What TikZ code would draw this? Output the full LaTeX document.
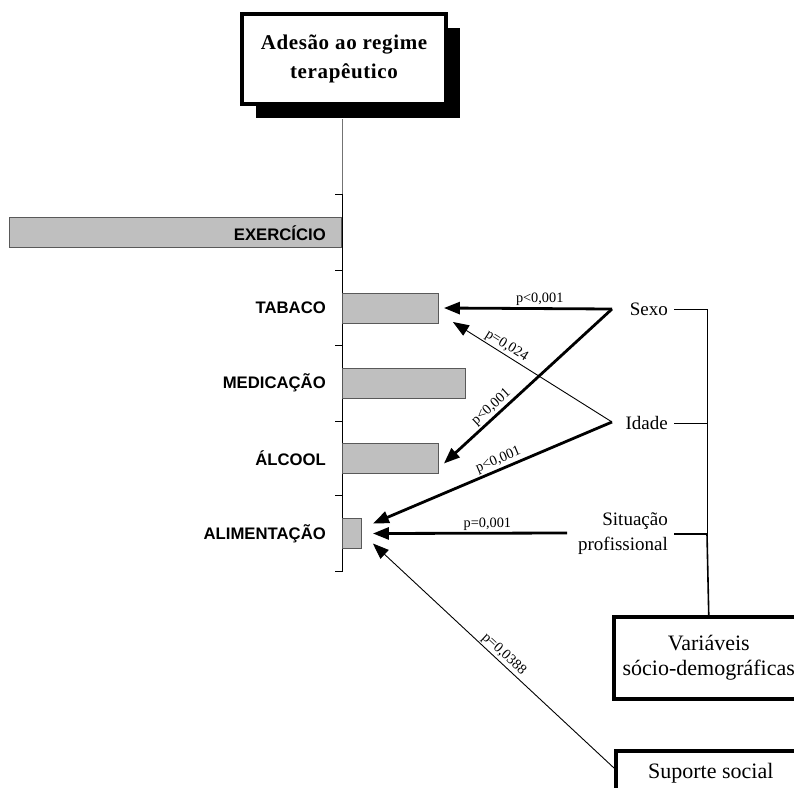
\documentclass[tikz,border=0pt]{standalone}
\usepackage{fontspec}
\setmainfont{Liberation Serif}
\setsansfont{Liberation Sans}
\usetikzlibrary{arrows.meta,shadows}
\begin{document}
\begin{tikzpicture}[x=1pt,y=-1pt,
  bar/.style={draw=black!65, fill=black!25, line width=0.9pt, inner sep=0pt, minimum height=30pt},
  barlabel/.style={font=\sffamily\bfseries\fontsize{16.7}{18}\selectfont, anchor=east, inner sep=0pt},
  var/.style={font=\fontsize{19}{25}\selectfont, inner sep=0pt},
  plabel/.style={font=\fontsize{14.3}{15}\selectfont, inner sep=1.5pt},
  tipstyle/.style={-{Triangle[length=16pt,width=12pt]}},
  strong/.style={tipstyle, line width=2.8pt},
  weak/.style={tipstyle, line width=0.9pt},
  framebox/.style={draw, line width=3.5pt, fill=white, inner sep=0pt},
]
\useasboundingbox (0,0) rectangle (794,787);
\clip (0,0) rectangle (794,787);

% title with solid drop shadow
\node[framebox, minimum width=204pt, minimum height=90pt, align=center,
      font=\bfseries\fontsize{21}{29}\selectfont\addfontfeature{LetterSpace=3},
      drop shadow={shadow xshift=14pt, shadow yshift=-14pt, opacity=1, fill=black}]
  (title) at (344,59) {Adesão ao regime\\terapêutico};

% axis with ticks
\coordinate (axtop) at (342,119);
\coordinate (axmid) at (342,194);
\coordinate (axbot) at (342,572);
\draw[line width=0.9pt, black!55] (axtop) -- (axmid);
\draw[line width=0.9pt] (axmid) -- (axbot);
\foreach \y in {194,270,345,421,495,571}
  \draw[line width=0.9pt] (335,\y) -- (342,\y);

% bars
\node[bar, anchor=east, minimum width=332pt] (exe) at (342,232.5) {};
\node[bar, anchor=west, minimum width=96pt]  (tab) at (342,308) {};
\node[bar, anchor=west, minimum width=123pt] (med) at (342,383) {};
\node[bar, anchor=west, minimum width=96pt]  (alc) at (342,458.5) {};
\node[bar, anchor=west, minimum width=19pt]  (ali) at (342,533.5) {};

\node[barlabel] at (326,233) {EXERCÍCIO};
\node[barlabel] at (326,308) {TABACO};
\node[barlabel] at (326,383) {MEDICAÇÃO};
\node[barlabel] at (326,458.5) {ÁLCOOL};
\node[barlabel] at (326,533.5) {ALIMENTAÇÃO};

% variables
\node[var, anchor=east] (sexo) at (668,309) {Sexo};
\node[var, anchor=east] (idade) at (668,423) {Idade};
\node[var, anchor=east, align=right] (sit) at (668,534) {Situação\\profissional};
\node[framebox, anchor=north west, minimum width=190pt, minimum height=82pt,
      align=center, font=\fontsize{22}{25}\selectfont]
  (socio) at (612,615) {Variáveis\\sócio-demográficas};
\node[framebox, anchor=north west, minimum width=190pt, minimum height=60pt,
      font=\fontsize{22}{25}\selectfont, text depth=20pt]
  (sup) at (614,749) {Suporte social};

% grouping bracket
\coordinate (brS) at (707,309);
\coordinate (brI) at (707,423);
\coordinate (brP) at (707,534);
\draw[line width=0.9pt] ([xshift=6pt]sexo.east) -- (brS);
\draw[line width=0.9pt] ([xshift=6pt]idade.east) -- (brI);
\draw[line width=1.6pt] ([xshift=6pt]sit.east) -- (brP);
\draw[line width=0.9pt] (brS) -- (brP);
\draw[line width=1.6pt] (brP) -- (socio.north);

% arrow origins
\coordinate (sx) at (612,309);
\coordinate (id) at (612,422);
\coordinate (sp) at (567,533);
\coordinate (ss) at (614,768);

% associations
\draw[strong] (sx) -- node[plabel, above, pos=0.43] {p<0,001} ([xshift=5pt]tab.east);
\draw[strong] (sx) -- node[plabel, sloped, above, pos=0.68] {p<0,001} ([xshift=5pt,yshift=-5pt]alc.east);
\draw[weak] (id) -- node[plabel, sloped, above, pos=0.69] {p=0,024} ([xshift=14pt,yshift=-14pt]tab.east);
\draw[strong] (id) -- node[plabel, sloped, above, pos=0.46] {p<0,001} ([xshift=11pt,yshift=10pt]ali.east);
\draw[strong] (sp) -- node[plabel, above, pos=0.41] {p=0,001} ([xshift=11pt]ali.east);
\draw[weak] (ss) -- node[plabel, sloped, above, pos=0.48] {p=0,0388} ([xshift=11pt,yshift=-10pt]ali.east);
\end{tikzpicture}
\end{document}
